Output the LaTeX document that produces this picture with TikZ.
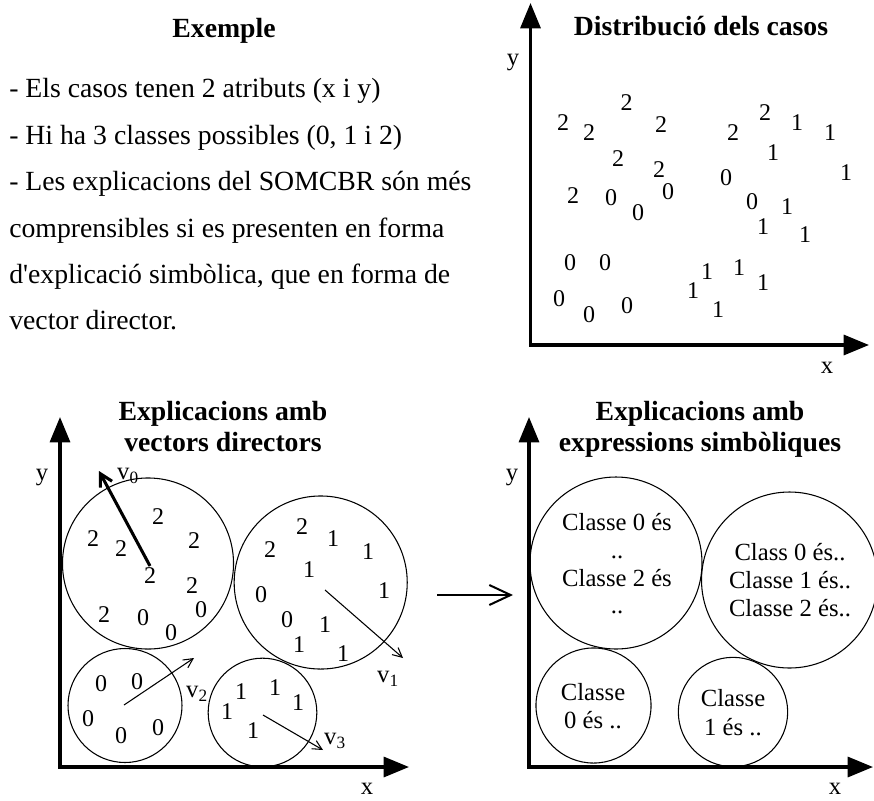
\documentclass[tikz,border=0pt]{standalone}
\usepackage{fontspec}
\setmainfont{Liberation Serif}
\newfontfamily\plainserif{Liberation Serif}
\usetikzlibrary{arrows.meta}
\begin{document}
\begin{tikzpicture}[x=0.75pt,y=-0.75pt,
  axis/.style={line width=2.4pt, line join=miter,
    {Triangle[length=19pt,width=15pt]}-{Triangle[length=19pt,width=15pt]}},
  dig/.style={font=\fontsize{18}{20}\selectfont, inner sep=0pt},
  lbl/.style={font=\fontsize{18.5}{20}\selectfont, inner sep=0pt},
  body/.style={font=\fontsize{20.8}{25}\selectfont, inner sep=0pt, anchor=base west},
  ttl/.style={font=\fontsize{20.8}{25}\selectfont\bfseries, inner sep=0pt, anchor=base},
  ctxt/.style={font=\fontsize{18.5}{20}\selectfont, inner sep=0pt, anchor=base},
  clus/.style={circle, draw, line width=0.8pt, inner sep=0pt},
  thinvec/.style={line width=0.8pt, -{Straight Barb[length=7pt,width=7pt]}},
  thickvec/.style={line width=2.3pt, -{Straight Barb[length=9pt,width=10pt]}},
  bigarrow/.style={line width=1.5pt, -{Straight Barb[length=16pt,width=15pt]}}
]
\useasboundingbox (0,0) rectangle (874,800);

% ---------- top left text ----------
\node[ttl] (ex) at (224,37.3) {Exemple};
\node[body] (l1) at (9,97.7) {- Els casos tenen 2 atributs (x i y)};
\node[body] (l2) at (9,144.1) {- Hi ha 3 classes possibles (0, 1 i 2)};
\node[body] (l3) at (9,190.6) {- Les explicacions del SOMCBR són més};
\node[body] (l4) at (9,237) {comprensibles si es presenten en forma};
\node[body] (l5) at (9,283.4) {\plainserif d'explicació simbòlica, que en forma de};
\node[body] (l6) at (9,329.8) {vector director.};

% ---------- top right: distribution ----------
\coordinate (aO) at (530.5,345);
\coordinate (aY) at (530.5,3);
\coordinate (aX) at (869,345);
\draw[axis] (aY) -- (aO) -- (aX);
\node[ttl] (t1) at (701,35) {Distribució dels casos};
\node[lbl] (ay) at (513,62) {y};
\node[lbl] (ax) at (827,368) {x};
\foreach \px/\py/\t [count=\i] in {
  626.7/103/2, 563/123/2, 589/133/2, 661/125/2, 618/159/2, 659/170/2,
  573/196/2, 611/198/0, 638/213/0, 668/192/0, 570/263/0, 605/263/0,
  559/299/0, 589/315/0, 627/306/0, 733/133/2, 765/113/2, 797/123/1,
  830/133/1, 773/153/1, 846/173/1, 726/178/0, 752/202/0, 787/207/1,
  763/227/1, 805/235/1, 707/272/1, 739/268/1, 763/283/1, 693/291/1,
  718/310/1}
  \node[dig] (a\i) at (\px,\py) {\t};

% ---------- bottom left: vectors ----------
\coordinate (bO) at (60,767);
\coordinate (bY) at (60,417);
\coordinate (bX) at (409,767);
\draw[axis] (bY) -- (bO) -- (bX);
\node[ttl] (t2a) at (223,420.7) {Explicacions amb};
\node[ttl] (t2b) at (223,451.7) {vectors directors};
\node[lbl] (by) at (42,477) {y};
\node[lbl] (bx) at (367,789) {x};
\node[clus, minimum size=128.3pt] (c1) at (148,563.5) {};
\node[clus, minimum size=129.8pt] (c2) at (320.7,582.5) {};
\node[clus, minimum size=85.5pt] (c3) at (125,705.5) {};
\node[clus, minimum size=81.5pt] (c4) at (262.5,712.5) {};
\foreach \px/\py/\t [count=\i] in {
  158/517/2, 93/539/2, 121/549/2, 194/541/2, 150/576/2, 192/586/2,
  104/615/2, 143/618/0, 171/633/0, 201/610/0,
  302/527/2, 270/550/2, 333/539/1, 368/552/1, 309/570/1, 384/591/1,
  261/595/0, 287/620/0, 325/625/1, 299/645/1, 343/654/1,
  101/684/0, 137/682/0, 88/719/0, 121/736/0, 158/728/0,
  241/692/1, 275/688/1, 298/703/1, 227/712/1, 253/731/1}
  \node[dig] (b\i) at (\px,\py) {\t};
\coordinate (v0s) at (150,566);
\coordinate (v0e) at (99,471);
\coordinate (v1s) at (325,590);
\coordinate (v1e) at (403,658);
\coordinate (v2s) at (124,705);
\coordinate (v2e) at (194,658);
\coordinate (v3s) at (263,715);
\coordinate (v3e) at (323,750);
\draw[thickvec] (v0s) -- (v0e);
\draw[thinvec] (v1s) -- (v1e);
\draw[thinvec] (v2s) -- (v2e);
\draw[thinvec] (v3s) -- (v3e);
\node[lbl] (v0) at (128,476) {v\textsubscript{0}};
\node[lbl] (v1) at (388,679) {v\textsubscript{1}};
\node[lbl] (v2) at (197,694) {v\textsubscript{2}};
\node[lbl] (v3) at (335,741) {v\textsubscript{3}};

% ---------- arrow between ----------
\coordinate (m1) at (437,595);
\coordinate (m2) at (513,595);
\draw[bigarrow] (m1) -- (m2);

% ---------- bottom right: symbolic ----------
\coordinate (cO) at (529,767);
\coordinate (cY) at (529,417);
\coordinate (cX) at (873,767);
\draw[axis] (cY) -- (cO) -- (cX);
\node[ttl] (t3a) at (700,420.7) {Explicacions amb};
\node[ttl] (t3b) at (700,451.7) {expressions simbòliques};
\node[lbl] (cy) at (512,477) {y};
\node[lbl] (cx) at (835,789) {x};
\node[clus, minimum size=129pt] (d1) at (616,563) {};
\node[clus, minimum size=132pt] (d2) at (789.5,580) {};
\node[clus, minimum size=86.3pt] (d3) at (593.5,705.5) {};
\node[clus, minimum size=82pt] (d4) at (733,712) {};
\node[ctxt] (e1) at (617,530.7) {Classe 0 és};
\node[ctxt] (e2) at (617,558.3) {..};
\node[ctxt] (e3) at (617,586) {Classe 2 és};
\node[ctxt] (e4) at (617,613.6) {..};
\node[ctxt] (f1) at (790,560.3) {Class 0 és..};
\node[ctxt] (f2) at (790,588.3) {Classe 1 és..};
\node[ctxt] (f3) at (790,616) {Classe 2 és..};
\node[ctxt] (g1) at (593,700.3) {Classe};
\node[ctxt] (g2) at (593,728.3) {0 és ..};
\node[ctxt] (h1) at (733,706.7) {Classe};
\node[ctxt] (h2) at (733,735) {1 és ..};
\end{tikzpicture}
\end{document}
